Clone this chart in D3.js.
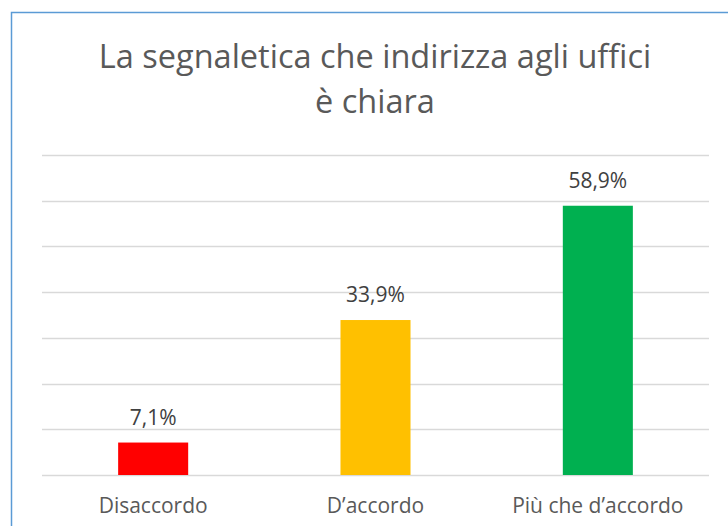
<!DOCTYPE html>
<html>
<head>
<meta charset="utf-8">
<script src="https://cdn.jsdelivr.net/npm/d3@7"></script>
<style>
  body { margin: 0; background: #fff; }
  svg { display: block; }
</style>
</head>
<body>
<svg width="728" height="526"></svg>
<script>
var categories = ["Disaccordo", "D\u2019accordo", "Pi\u00f9 che d\u2019accordo"];
var values = [7.1, 33.9, 58.9];
var colors = ["#ff0000", "#ffc000", "#00b050"];
var titleLines = ["La segnaletica che indirizza agli uffici", "\u00e8 chiara"];

var svg = d3.select("svg"),
    margin = {top: 155, right: 19, bottom: 51, left: 42},
    width = +svg.attr("width") - margin.left - margin.right,
    height = +svg.attr("height") - margin.top - margin.bottom;

// chart frame
svg.append("rect")
    .attr("x", 11.5)
    .attr("y", 12.5)
    .attr("width", 740)
    .attr("height", 540)
    .attr("fill", "#fff")
    .attr("stroke", "#5b9bd5")
    .attr("stroke-width", 1.5);

svg.append("g")
    .selectAll("text")
    .data(titleLines)
    .enter().append("text")
      .attr("x", 375)
      .attr("y", function(d, i) { return 68 + i * 45; })
      .attr("text-anchor", "middle")
      .attr("fill", "#595959")
      .style("font", "32.5px 'Open Sans', sans-serif")
      .text(function(d) { return d; });

var g = svg.append("g").attr("transform", "translate(" + margin.left + "," + margin.top + ")");

var x = d3.scaleBand()
    .domain(categories)
    .range([0, width])
    .paddingInner(0.685)
    .paddingOuter(0.3425);

var y = d3.scaleLinear()
    .domain([0, 70])
    .range([height, 0]);

g.append("g")
    .attr("class", "grid")
    .selectAll("line")
    .data(y.ticks(7))
    .enter().append("line")
      .attr("x1", 0)
      .attr("x2", width)
      .attr("y1", function(d) { return Math.round(y(d)) + 0.5; })
      .attr("y2", function(d) { return Math.round(y(d)) + 0.5; })
      .attr("stroke", "#d9d9d9")
      .attr("stroke-width", 1.5);

var data = categories.map(function(c, i) { return {cat: c, value: values[i], color: colors[i]}; });

g.selectAll(".bar")
    .data(data)
    .enter().append("rect")
      .attr("class", "bar")
      .attr("x", function(d) { return x(d.cat); })
      .attr("y", function(d) { return y(d.value); })
      .attr("width", x.bandwidth())
      .attr("height", function(d) { return y(0) - y(d.value); })
      .attr("fill", function(d) { return d.color; });

g.selectAll(".label")
    .data(data)
    .enter().append("text")
      .attr("class", "label")
      .attr("x", function(d) { return x(d.cat) + x.bandwidth() / 2; })
      .attr("y", function(d) { return y(d.value) - 18; })
      .attr("text-anchor", "middle")
      .attr("fill", "#404040")
      .style("font", "21px 'Open Sans', sans-serif")
      .text(function(d) { return d3.format(".1f")(d.value).replace(".", ",") + "%"; });

var xAxis = g.append("g")
    .attr("transform", "translate(0," + height + ")")
    .call(d3.axisBottom(x).tickSize(0).tickPadding(23));

xAxis.select(".domain").remove();
xAxis.selectAll("text")
    .attr("fill", "#595959")
    .style("font", "21px 'Open Sans', sans-serif");
</script>
</body>
</html>
